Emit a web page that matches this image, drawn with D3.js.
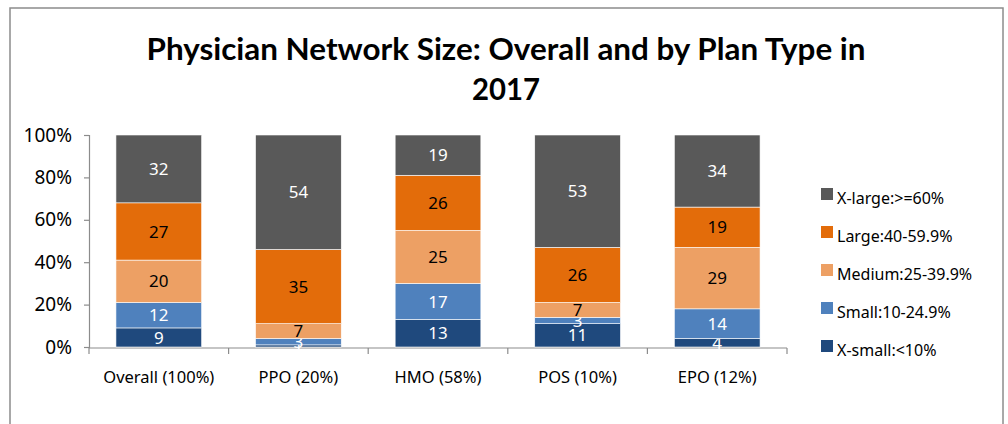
<!DOCTYPE html>
<html>
<head>
<meta charset="utf-8">
<script src="https://cdn.jsdelivr.net/npm/d3@7"></script>
<style>
  body { margin: 0; background: #fff; }
  text { font-family: "Noto Sans", "Open Sans", sans-serif; }
</style>
</head>
<body>
<svg id="chart" width="1008" height="424"></svg>
<script>
// categories along the x axis
var planTypes = ["Overall (100%)", "PPO (20%)", "HMO (58%)", "POS (10%)", "EPO (12%)"];

// series, bottom to top
var sizeNames = ["X-small:<10%", "Small:10-24.9%", "Medium:25-39.9%", "Large:40-59.9%", "X-large:>=60%"];
var xSmall = [9, 1, 13, 11, 4];
var small = [12, 3, 17, 3, 14];
var medium = [20, 7, 25, 7, 29];
var large = [27, 35, 26, 26, 19];
var xLarge = [32, 54, 19, 53, 34];

var yTicks = [0, 20, 40, 60, 80, 100];

var colors = ["#1F497D", "#4F81BD", "#EDA064", "#E36C0A", "#595959"];
var labelColors = ["#fff", "#fff", "#000", "#000", "#fff"];

// build the table for d3.stack
var seriesValues = [xSmall, small, medium, large, xLarge];
var table = planTypes.map(function (p, i) {
    var row = { plan: p };
    sizeNames.forEach(function (s, j) { row[s] = seriesValues[j][i]; });
    return row;
});

var svg = d3.select("#chart");

// outer frame
svg.append("rect")
    .attr("x", 10).attr("y", 8)
    .attr("width", 993).attr("height", 430)
    .attr("fill", "none")
    .attr("stroke", "#8c8c8c")
    .attr("stroke-width", 1.5);

// title
var titleLines = ["Physician Network Size: Overall and by Plan Type in", "2017"];
var titleWidths = [719, 68];
svg.selectAll(".title")
    .data(titleLines)
    .enter().append("text")
    .attr("class", "title")
    .attr("x", 506)
    .attr("y", function (d, i) { return 60 + i * 40; })
    .attr("text-anchor", "middle")
    .attr("textLength", function (d, i) { return titleWidths[i]; })
    .attr("lengthAdjust", "spacingAndGlyphs")
    .style("font-family", "Lato, 'Open Sans', sans-serif")
    .style("font-weight", "bold")
    .style("font-size", "31px")
    .text(function (d) { return d; });

var x = d3.scaleBand()
    .domain(planTypes)
    .range([89, 787])
    .paddingInner(0.386)
    .paddingOuter(0.193);

var y = d3.scaleLinear()
    .domain([0, 100])
    .range([347, 135]);

// axes
var yAxis = g => g.attr("transform", "translate(89,0)")
    .call(d3.axisLeft(y).tickValues(yTicks).tickFormat(function (d) { return d + "%"; }).tickSizeOuter(0).tickSize(5).tickPadding(12))
    .call(g => g.selectAll("line, path").attr("stroke", "#8c8c8c").attr("stroke-width", 1.2))
    .call(g => g.selectAll("text").style("font-size", "19px").attr("fill", "#000").attr("font-family", "'Noto Sans', sans-serif"));
svg.append("g").call(yAxis);

var xAxisG = svg.append("g").attr("transform", "translate(0,348)");
xAxisG.append("line")
    .attr("x1", 89).attr("x2", 787)
    .attr("stroke", "#8c8c8c").attr("stroke-width", 1.2);
var bounds = [89].concat(planTypes.map(function (p) { return x(p) + x.bandwidth() / 2 + x.step() / 2; }));
xAxisG.selectAll(".tick")
    .data(bounds)
    .enter().append("line")
    .attr("x1", function (d) { return d; })
    .attr("x2", function (d) { return d; })
    .attr("y1", 0).attr("y2", 6)
    .attr("stroke", "#8c8c8c").attr("stroke-width", 1.2);
xAxisG.selectAll(".lbl")
    .data(planTypes)
    .enter().append("text")
    .attr("x", function (d) { return x(d) + x.bandwidth() / 2; })
    .attr("y", 35)
    .attr("text-anchor", "middle")
    .style("font-size", "16.5px")
    .attr("fill", "#000")
    .text(function (d) { return d; });

// stacked bars
var stacked = d3.stack().keys(sizeNames)(table);

var layers = svg.selectAll(".layer")
    .data(stacked)
    .enter().append("g")
    .attr("class", "layer");

layers.selectAll("rect")
    .data(function (d) { return d; })
    .enter().append("rect")
    .attr("x", function (d) { return x(d.data.plan); })
    .attr("y", function (d) { return y(d[1]); })
    .attr("width", x.bandwidth())
    .attr("height", function (d) { return y(d[0]) - y(d[1]); })
    .attr("fill", function (d) { return colors[sizeNames.indexOf(d3.select(this.parentNode).datum().key)]; })
    .attr("stroke", "#fff")
    .attr("stroke-width", 0.6);

layers.each(function (s, si) {
    d3.select(this).selectAll("text")
        .data(s)
        .enter().append("text")
        .attr("x", function (d) { return x(d.data.plan) + x.bandwidth() / 2; })
        .attr("y", function (d) { return (y(d[0]) + y(d[1])) / 2; })
        .attr("dy", "0.36em")
        .attr("text-anchor", "middle")
        .style("font-size", "17px")
        .attr("fill", labelColors[si])
        .text(function (d) { return d.data[s.key]; });
});

// legend, top row is X-large
var legendOrder = sizeNames.slice().reverse();
var legend = svg.selectAll(".legend")
    .data(legendOrder)
    .enter().append("g")
    .attr("class", "legend")
    .attr("transform", function (d, i) { return "translate(821," + (188 + i * 38) + ")"; });
legend.append("rect")
    .attr("width", 12).attr("height", 12)
    .attr("fill", function (d) { return colors[sizeNames.indexOf(d)]; });
legend.append("text")
    .attr("x", 16)
    .attr("y", 16)
    .style("font-size", "16px")
    .attr("fill", "#000")
    .text(function (d) { return d; });
</script>
</body>
</html>
